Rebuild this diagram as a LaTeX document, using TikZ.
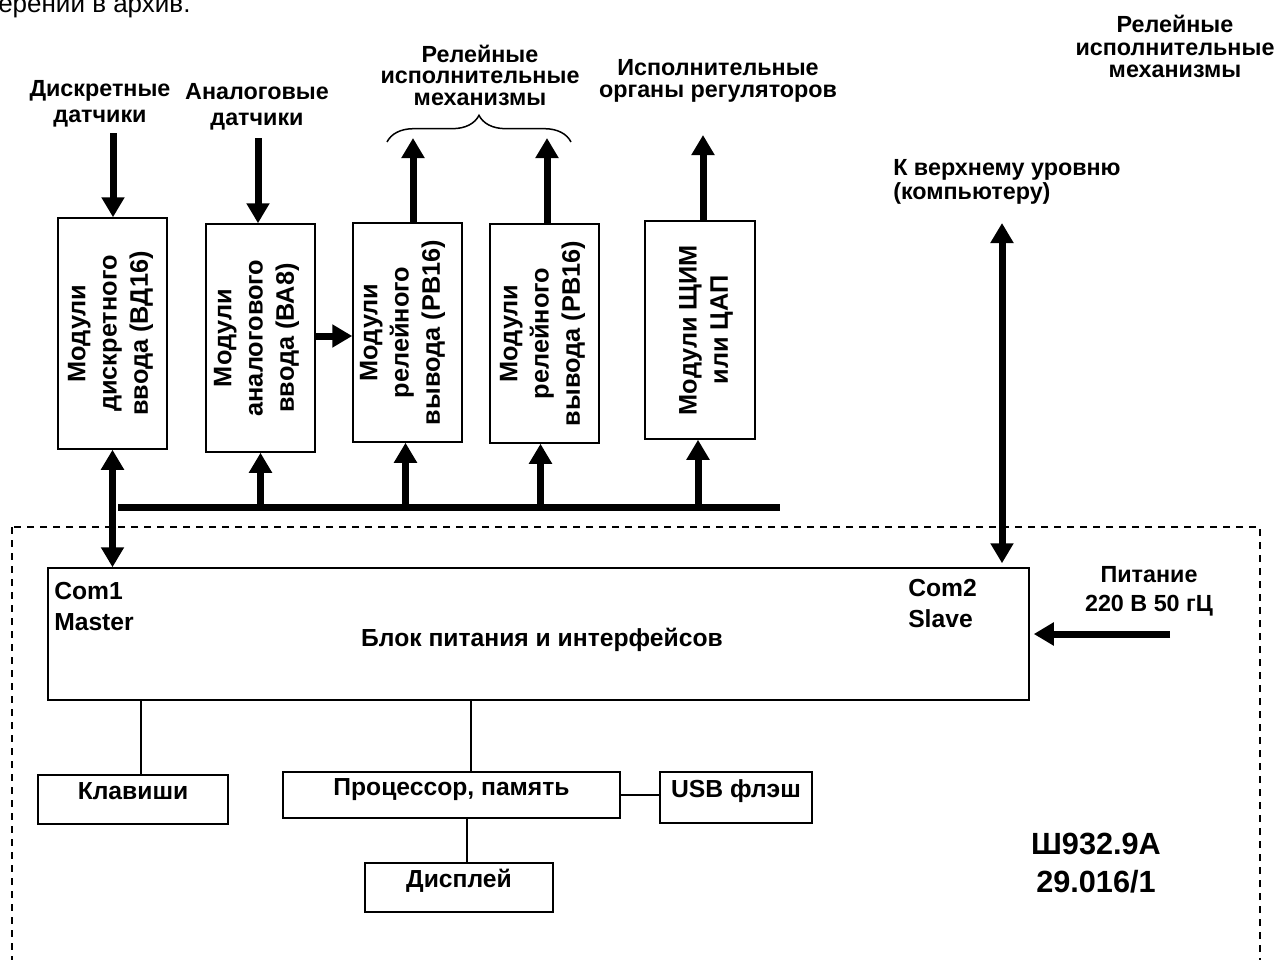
\documentclass[tikz,border=0pt]{standalone}
\usepackage{fontspec}
\setmainfont{Liberation Sans}
\usetikzlibrary{arrows.meta,decorations.pathreplacing}
\newdimen\px \px=0.75pt
\begin{document}
\begin{tikzpicture}[x=0.75pt,y=0.75pt,
  every node/.style={inner sep=0pt},
  lbl/.style={font=\fontsize{17.5}{#1}\selectfont\bfseries, align=center, anchor=north},
  box/.style={draw, line width=1.5\px},
  vtext/.style={rotate=90, align=center, font=\fontsize{19}{23.5}\selectfont\bfseries},
  lowtext/.style={font=\fontsize{18.5}{22}\selectfont\bfseries, text height=6pt, text depth=6pt},
  bigarrow/.style={line width=7\px, -{Triangle[width=16.5pt,length=15pt]}},
  dblarrow/.style={line width=7\px, {Triangle[width=16.5pt,length=15pt]}-{Triangle[width=16.5pt,length=15pt]}},
  bus/.style={line width=7\px},
  thinline/.style={line width=1.5\px},
  frame/.style={line width=1.5\px, dash pattern=on 5.25pt off 4.5pt}
]
\useasboundingbox (0,0) rectangle (1279,-960);

% cropped caption at top
\node[anchor=base west, font=\fontsize{19.5}{22}\selectfont] (arch) at (-2,-12.5) {ерении в архив.};

% dashed frame
\draw[frame] (12,-527) rectangle (1260,-980);

% top labels
\node[lbl=20pt] (ld) at (100,-80) {Дискретные\\датчики};
\node[lbl=20pt] (la) at (257,-83) {Аналоговые\\датчики};
\node[lbl=16pt] (lr) at (480,-45) {Релейные\\исполнительные\\механизмы};
\node[lbl=17pt] (li) at (718,-59) {Исполнительные\\органы регуляторов};
\node[lbl=17pt] (lrr) at (1175,-15) {Релейные\\исполнительные\\механизмы};
\node[lbl=18pt, anchor=north west, align=left] (lk) at (893,-159) {К верхнему уровню\\(компьютеру)};
\node[lbl=22pt] (lp) at (1149,-566) {Питание\\220 В 50 гЦ};

% brace
\draw[thinline, decorate, decoration={brace, amplitude=20pt}] (387,-142) -- (571,-142);

% module boxes
\node[box, minimum width=109\px, minimum height=231\px] (b1) at (112.5,-333.5) {};
\node[vtext] (b1t) at ([xshift=-2\px]b1.center) {Модули\\дискретного\\ввода (ВД16)};
\node[box, minimum width=109\px, minimum height=228\px] (b2) at (260.5,-338) {};
\node[vtext] (b2t) at ([xshift=-4\px]b2.center) {Модули\\аналогового\\ввода (ВА8)};
\node[box, minimum width=109\px, minimum height=219\px] (b3) at (407.5,-332.5) {};
\node[vtext] (b3t) at ([xshift=-5\px]b3.center) {Модули\\релейного\\вывода (РВ16)};
\node[box, minimum width=109\px, minimum height=219\px] (b4) at (544.5,-333.5) {};
\node[vtext] (b4t) at ([xshift=-2\px]b4.center) {Модули\\релейного\\вывода (РВ16)};
\node[box, minimum width=110\px, minimum height=218\px] (b5) at (700,-330) {};
\node[vtext] (b5t) at ([xshift=6\px]b5.center) {Модули ЩИМ\\или ЦАП};

% power / interface block
\node[box, minimum width=981\px, minimum height=132\px] (blk) at (538.5,-634) {};
\node[anchor=base, font=\fontsize{18.5}{22}\selectfont\bfseries] (blkt) at (542,-646) {Блок питания и интерфейсов};
\node[anchor=north west, align=left, font=\fontsize{18.5}{23}\selectfont\bfseries] (c1) at (54,-582) {Com1\\Master};
\node[anchor=north west, align=left, font=\fontsize{18.5}{23}\selectfont\bfseries] (c2) at (908,-579) {Com2\\Slave};

% lower boxes
\node[box, minimum width=190\px, minimum height=49\px, lowtext] (kl) at (133,-799.5) {Клавиши};
\node[box, minimum width=337\px, minimum height=46\px, lowtext] (proc) at (451.5,-795) {Процессор, память};
\node[box, minimum width=152\px, minimum height=51\px, lowtext] (usb) at (736,-797.5) {USB флэш};
\node[box, minimum width=188\px, minimum height=49\px, lowtext] (disp) at (459,-887.5) {Дисплей};

% code label
\node[anchor=north, align=center, font=\fontsize{23}{28}\selectfont\bfseries] (code) at (1096,-833) {Ш932.9А\\29.016/1};

% free ends
\coordinate (ds) at (113,-133);
\coordinate (as) at (258,-138);
\coordinate (r1) at (413,-138);
\coordinate (r2) at (547,-138);
\coordinate (r3) at (703,-135);
\coordinate (h) at (0,-336);
\coordinate (busL) at (118,-507);
\coordinate (busR) at (780,-507);
\coordinate (pc) at (1002,-223);
\coordinate (pw) at (1170,-634);

% thick arrows
\draw[bigarrow] (ds) -- (ds |- b1.north);
\draw[bigarrow] (as) -- (as |- b2.north);
\draw[bigarrow] (r1 |- b3.north) -- (r1);
\draw[bigarrow] (r2 |- b4.north) -- (r2);
\draw[bigarrow] (r3 |- b5.north) -- (r3);
\draw[bigarrow] (b2.east |- h) -- (b3.west |- h);

% bus
\draw[bus] (busL) -- (busR);
\draw[dblarrow] (b1.south) -- (b1.south |- blk.north);
\draw[bigarrow] (b2.south |- busL) -- (b2.south);
\draw[bigarrow] ([xshift=-2\px]b3.south |- busL) -- ([xshift=-2\px]b3.south);
\draw[bigarrow] ([xshift=-4\px]b4.south |- busL) -- ([xshift=-4\px]b4.south);
\draw[bigarrow] ([xshift=-2\px]b5.south |- busL) -- ([xshift=-2\px]b5.south);

% upper level and power
\draw[dblarrow, shorten >=3pt] (pc) -- (pc |- blk.north);
\draw[bigarrow, shorten >=3pt] (pw) -- (blk.east |- pw);

% thin links
\draw[thinline] ([xshift=8\px]kl.north) -- ([xshift=8\px]kl.north |- blk.south);
\draw[thinline] ([xshift=19.5\px]proc.north) -- ([xshift=19.5\px]proc.north |- blk.south);
\draw[thinline] ([xshift=8\px]disp.north) -- ([xshift=8\px]disp.north |- proc.south);
\draw[thinline] (proc.east) -- (usb.west |- proc.east);
\end{tikzpicture}
\end{document}
